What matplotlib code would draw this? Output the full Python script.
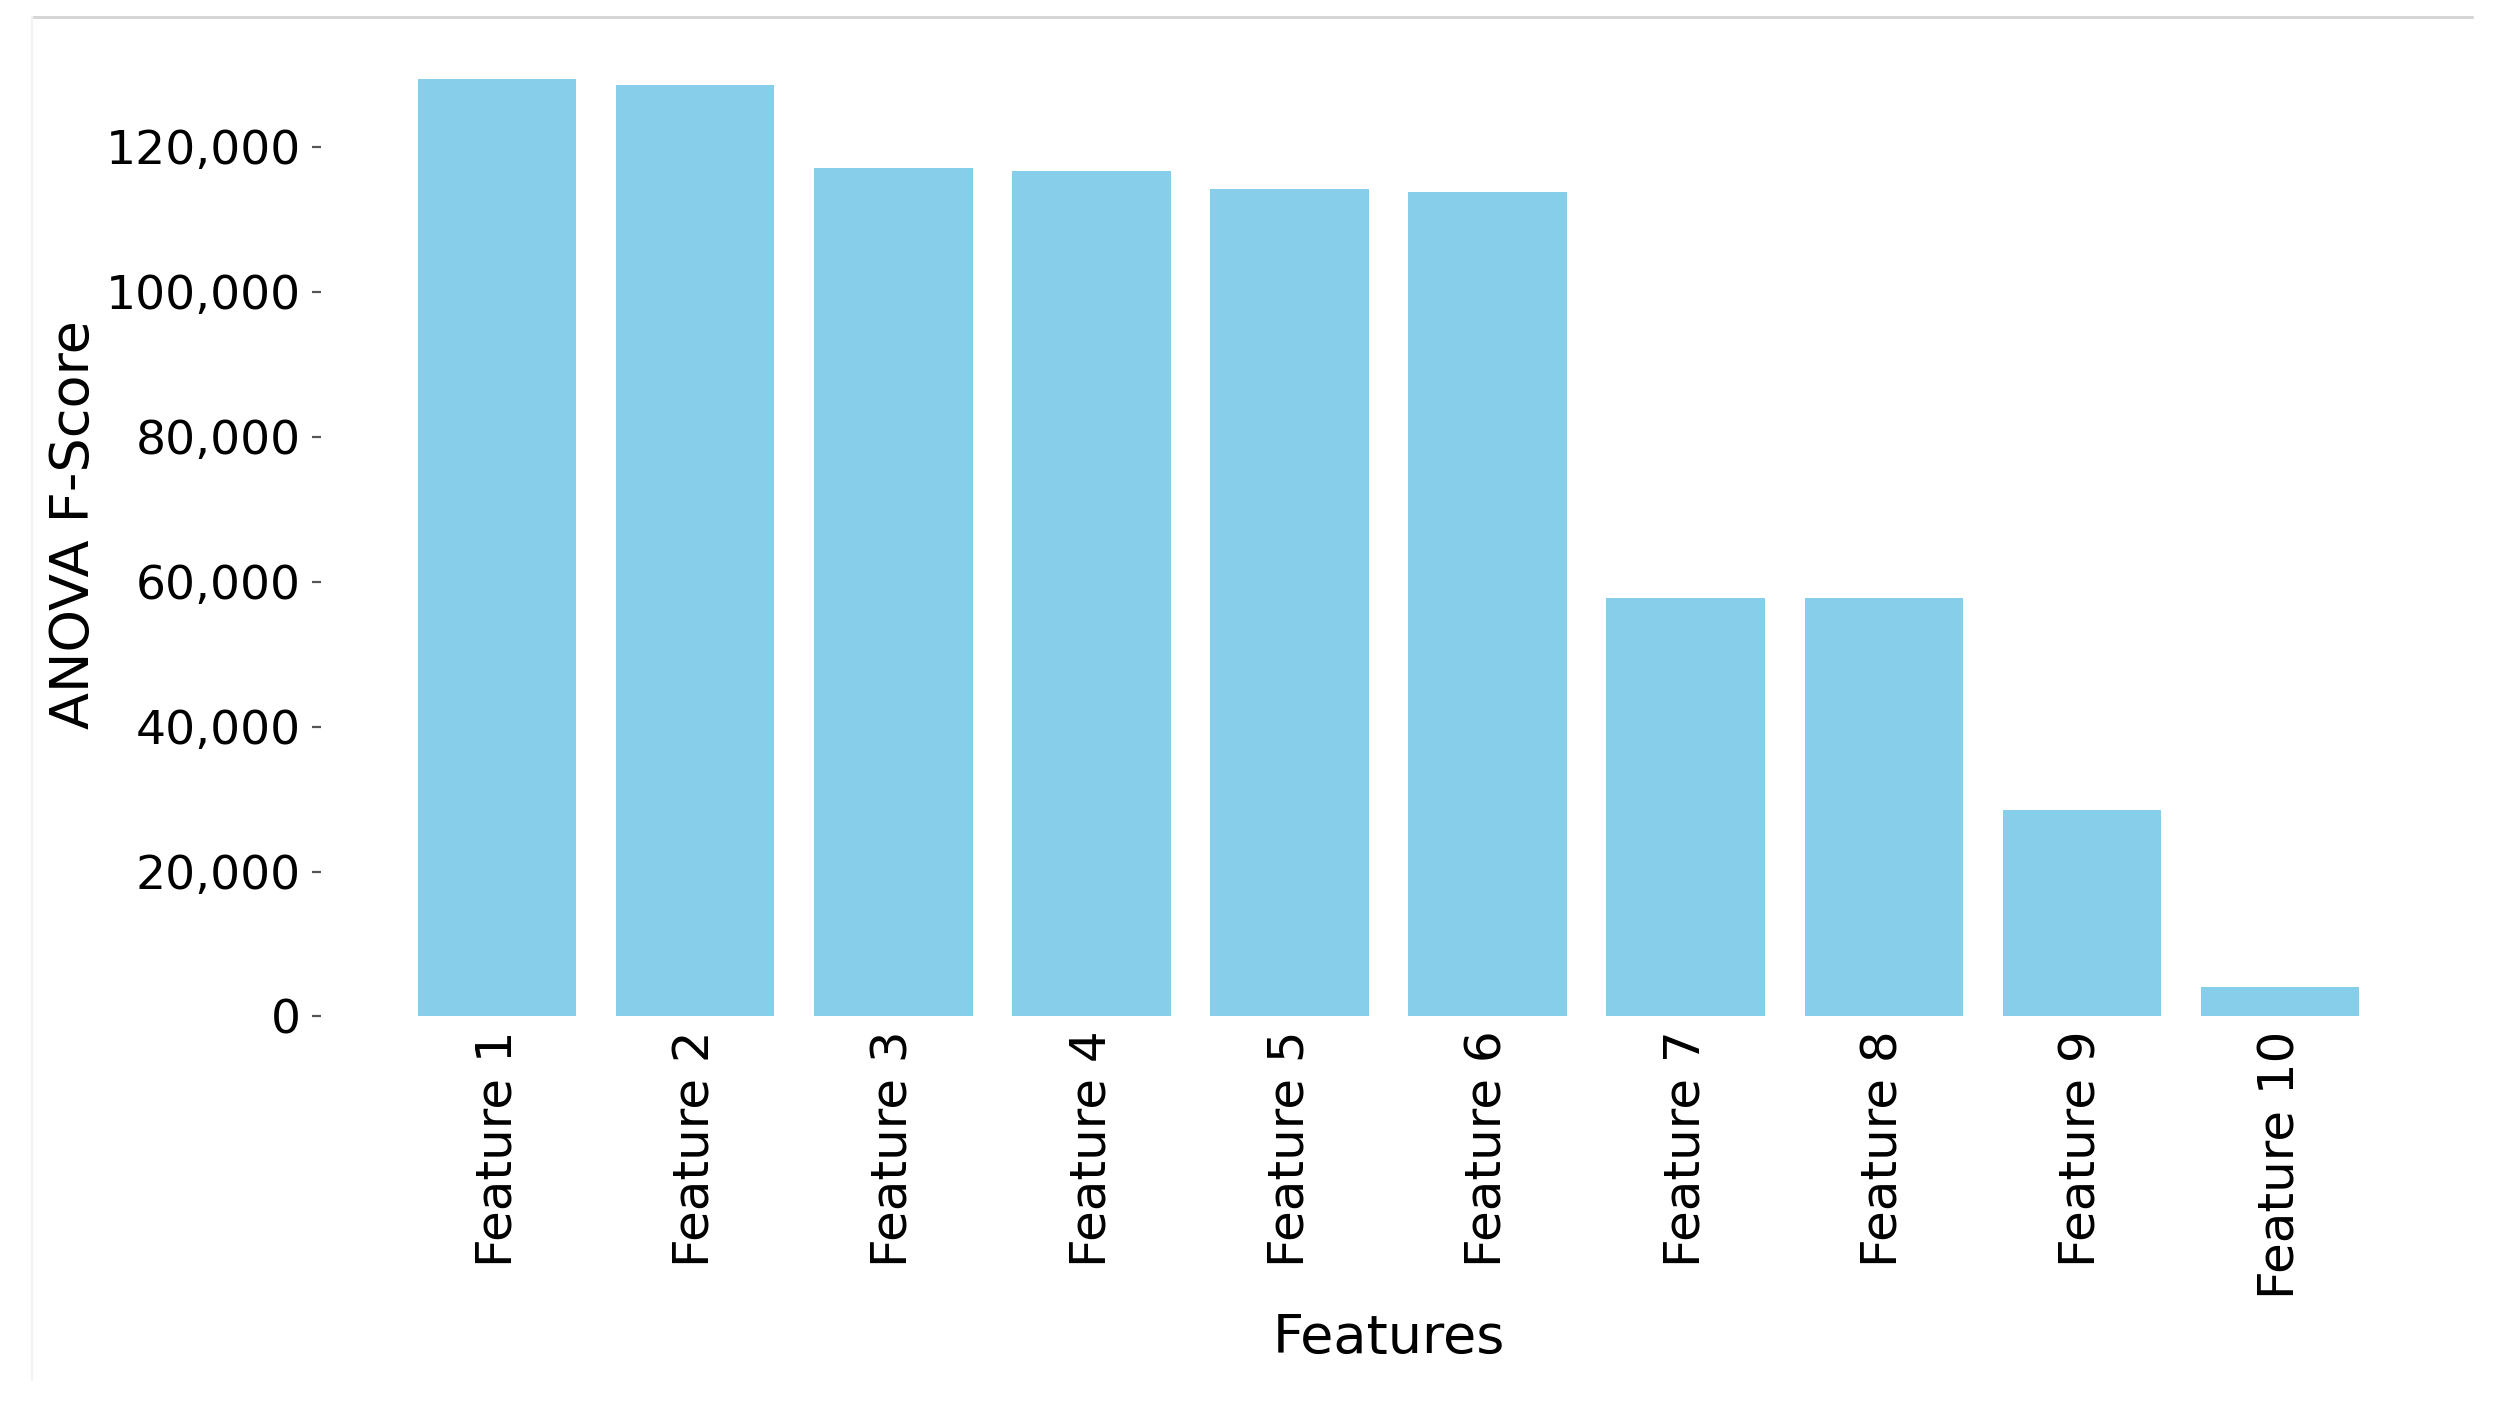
"""
ANOVA F-score bar chart of the ten features
"""

import matplotlib
matplotlib.use("Agg")
import matplotlib.pyplot as plt
from matplotlib.lines import Line2D
from matplotlib.ticker import FuncFormatter

# ---------------- DATA ----------------
features = ["Feature 1", "Feature 2", "Feature 3", "Feature 4", "Feature 5",
            "Feature 6", "Feature 7", "Feature 8", "Feature 9", "Feature 10"]
f_scores = [129300, 128550, 117060, 116650, 114120,
            113750, 57700, 57700, 28450, 4070]
y_ticks = [0, 20000, 40000, 60000, 80000, 100000, 120000]

BAR_COLOR = "skyblue"

# ---------------- PLOT ----------------
plt.rcParams["font.family"] = ["DejaVu Sans"]

fig = plt.figure(figsize=(12.54, 7.055), dpi=200)
ax = fig.add_axes([0.1279, 0.2796, 0.8515, 0.6974])

x = list(range(len(features)))
ax.bar(x, f_scores, width=0.8, color=BAR_COLOR)

ax.set_xticks(x)
ax.set_xticklabels(features, rotation=90, fontsize=18)
ax.set_yticks(y_ticks)
ax.yaxis.set_major_formatter(FuncFormatter(lambda v, p: f"{int(v):,}"))

ax.tick_params(axis="x", length=0, pad=5)
ax.tick_params(axis="y", labelsize=17, length=3.2, width=0.8,
               color="#555555", pad=4)

for spine in ax.spines.values():
    spine.set_visible(False)

ax.set_xlabel("Features", fontsize=19.5, va="top")
ax.set_ylabel("ANOVA F-Score", fontsize=19.5)
ax.xaxis.set_label_coords(0.5, -0.30)
ax.yaxis.set_label_coords(-0.1035, 0.5)

# screenshot frame around the figure
W, H = 2508, 1411
fig.add_artist(Line2D([32 / W, 2472 / W], [1 - 17 / H, 1 - 17 / H],
                      transform=fig.transFigure, color="#d4d4d4", lw=1.0))
fig.add_artist(Line2D([32 / W, 32 / W], [1 - 17 / H, 1 - 1380 / H],
                      transform=fig.transFigure, color="#f3f3f3", lw=0.8))

fig.savefig("out.png", dpi=200, facecolor="white")
